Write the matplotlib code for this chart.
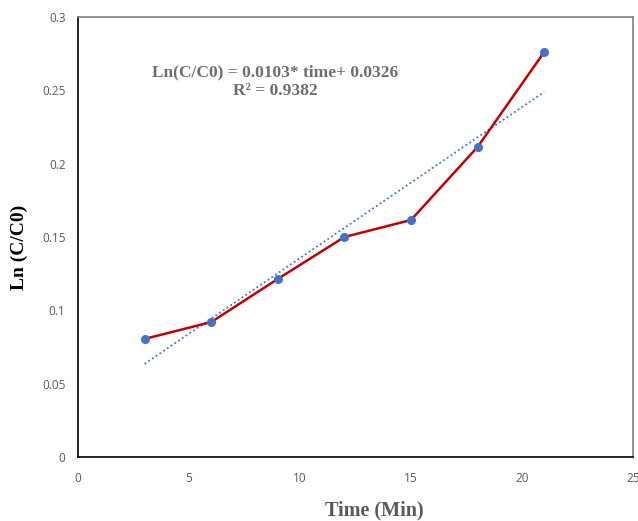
import matplotlib
matplotlib.use("Agg")
import matplotlib.pyplot as plt
import numpy as np

time = [3, 6, 9, 12, 15, 18, 21]
ln_c = [0.0805, 0.092, 0.1214, 0.150, 0.1616, 0.2114, 0.2761]
slope, intercept = 0.0103, 0.0326
x_ticks = [0, 5, 10, 15, 20, 25]
y_ticks = [0, 0.05, 0.1, 0.15, 0.2, 0.25, 0.3]
y_tick_labels = ["0", "0.05", "0.1", "0.15", "0.2", "0.25", "0.3"]

fig = plt.figure(figsize=(6.38, 5.21), dpi=100)
ax = fig.add_axes([78/638, 1 - 457/521, (633-78)/638, (457-17)/521])

tx = np.array([time[0], time[-1]])
ax.plot(tx, slope * tx + intercept, linestyle=(0, (1, 1.5)), color="#4472C4", lw=1.3, zorder=2)
ax.plot(time, ln_c, color="#C00000", lw=1.8, zorder=3)
ax.plot(time, ln_c, "o", color="#4472C4", ms=5.5, zorder=4)

ax.set_xlim(0, 25)
ax.set_ylim(0, 0.3)
ax.set_xticks(x_ticks)
ax.set_yticks(y_ticks)
ax.set_yticklabels(y_tick_labels)
ax.tick_params(axis="y", length=0, labelsize=8.5, colors="#595959", pad=9)
ax.tick_params(axis="x", length=0, labelsize=8.5, colors="#595959", pad=11)
for lab in ax.get_xticklabels() + ax.get_yticklabels():
    lab.set_family("Open Sans")

for s in ["left", "bottom"]:
    ax.spines[s].set_color("black")
    ax.spines[s].set_linewidth(1.2)
for s in ["top", "right"]:
    ax.spines[s].set_color("#7f7f7f")
    ax.spines[s].set_linewidth(1.2)

ax.set_xlabel("Time (Min)", family="Liberation Serif", fontweight="bold", fontsize=14.5, color="#595959")
ax.xaxis.set_label_coords((374-78)/555, -(510-457)/440)
ax.xaxis.label.set_va("center")
ax.set_ylabel("Ln (C/C0)", family="Liberation Serif", fontweight="bold", fontsize=14, color="black")
ax.yaxis.set_label_coords((19-78)/555, (457-247)/440)
ax.yaxis.label.set_va("center")

ax.text((275-78)/555, (457-82)/440, "Ln(C/C0) = 0.0103* time+ 0.0326\nR² = 0.9382", transform=ax.transAxes,
        ha="center", va="center", family="Liberation Serif", fontweight="bold", fontsize=12.5,
        color="#6d6d6d", linespacing=1.2, multialignment="center")

fig.savefig("out.png", dpi=100)
